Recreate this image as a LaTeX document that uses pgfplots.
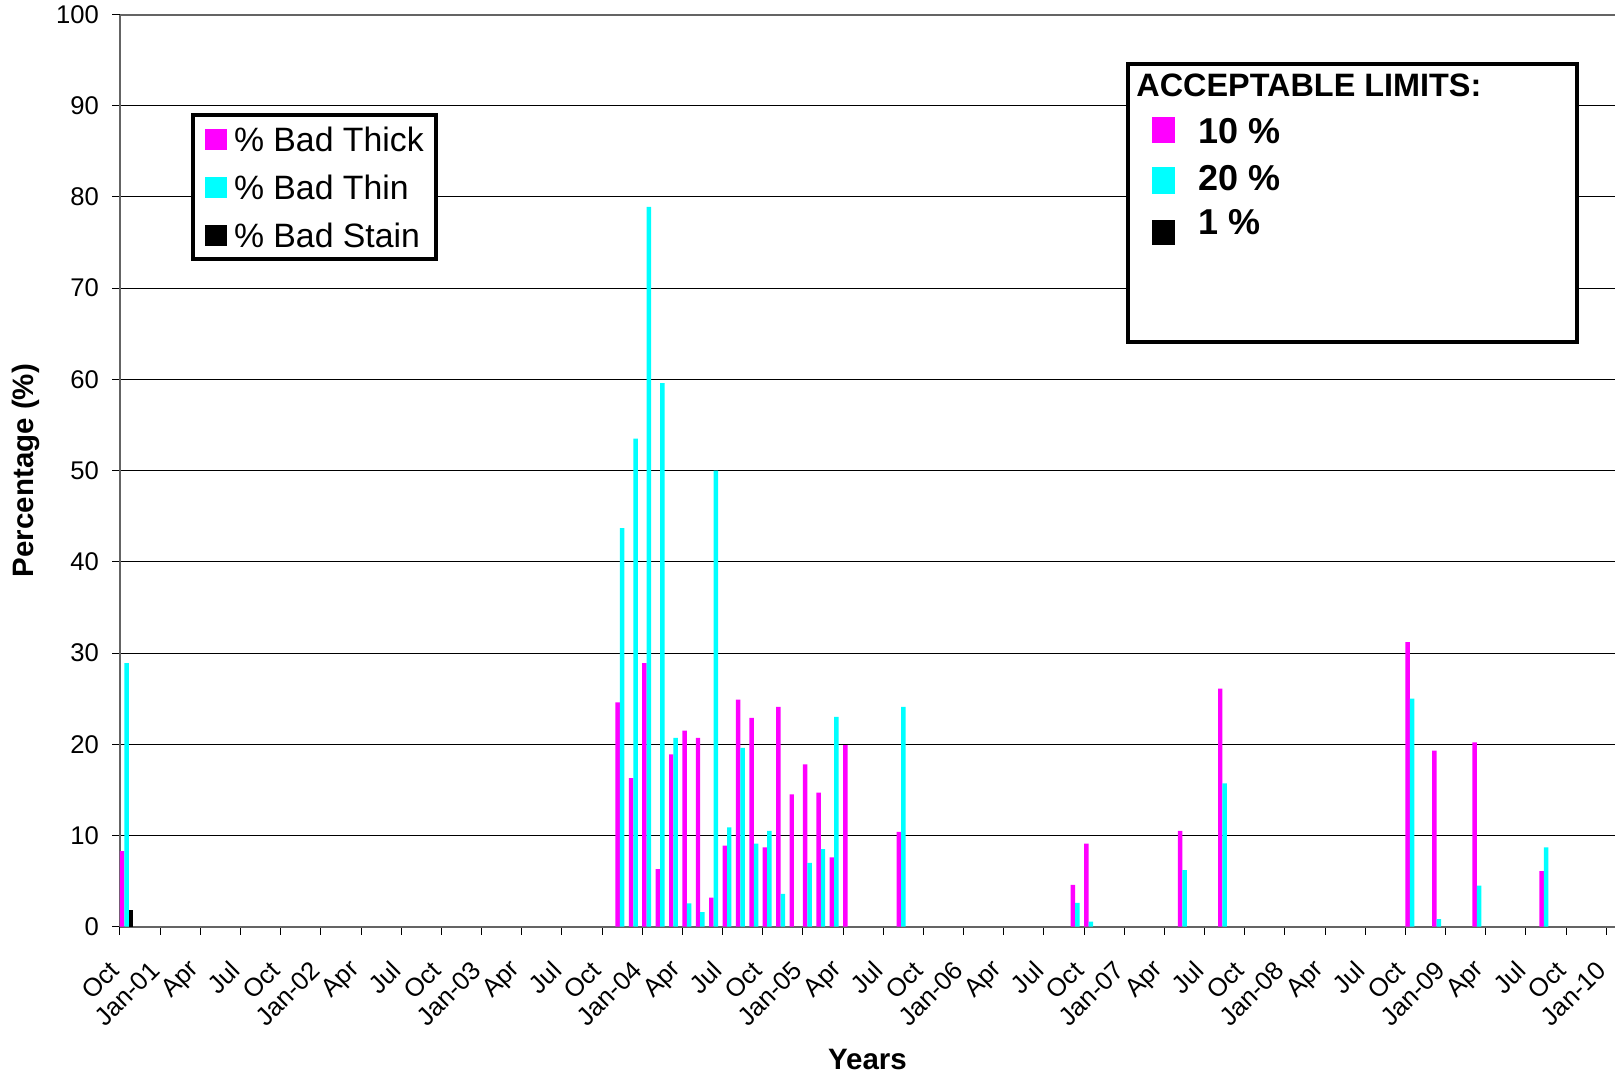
\documentclass[border=0pt]{standalone}
\usepackage{pgfplots}
\pgfplotsset{compat=1.18}
\usepackage{pgfplotstable}
\usepackage{fontspec}
\setmainfont{Liberation Sans}
\definecolor{cMag}{RGB}{255,0,255}
\definecolor{cCyan}{RGB}{0,255,255}
\definecolor{cAxis}{RGB}{100,100,100}
\newcommand{\tickfont}{\fontsize{12.8}{15}\selectfont}
\newcommand{\labfont}{\fontsize{14.75}{17}\selectfont\bfseries}
\pgfplotsset{sqlegend/.style={legend image code/.code={\fill[##1, draw=none] (0pt,-5.25pt) rectangle (11pt,5.25pt);}}}

% month index: 0 = Oct-00
\pgfplotstableread{
m v
0 8.3
37 24.6
38 16.3
39 28.9
40 6.3
41 18.9
42 21.5
43 20.7
44 3.2
45 8.9
46 24.9
47 22.9
48 8.7
49 24.1
50 14.5
51 17.8
52 14.7
53 7.6
54 19.9
58 10.4
71 4.6
72 9.1
79 10.5
82 26.1
96 31.2
98 19.3
101 20.2
106 6.1
}\tblThick

\pgfplotstableread{
m v
0 28.9
37 43.7
38 53.5
39 78.9
40 59.6
41 20.7
42 2.55
43 1.6
44 50.0
45 10.9
46 19.6
47 9.1
48 10.5
49 3.6
51 7.0
52 8.5
53 23.0
58 24.1
71 2.6
72 0.55
79 6.2
82 15.7
96 25.0
98 0.84
101 4.5
106 8.7
}\tblThin

\pgfplotstableread{
m v
0 1.8
}\tblStain

\begin{document}
\begin{tikzpicture}
\begin{axis}[
  scale only axis, width=747.5pt, height=456.1pt,
  xmin=0, xmax=111.65, ymin=0, ymax=100,
  axis x line*=bottom, axis y line*=left,
  axis line style={draw=cAxis, line width=1pt},
  ytick={0,10,...,100},
  ymajorgrids, grid style={black, line width=0.5pt},
  xtick={0,3,...,111},
  xticklabels={Oct,Jan-01,Apr,Jul,Oct,Jan-02,Apr,Jul,Oct,Jan-03,Apr,Jul,Oct,Jan-04,Apr,Jul,Oct,Jan-05,Apr,Jul,Oct,Jan-06,Apr,Jul,Oct,Jan-07,Apr,Jul,Oct,Jan-08,Apr,Jul,Oct,Jan-09,Apr,Jul,Oct,Jan-10},
  tick align=outside, major tick length=4pt,
  tick style={black, line width=0.5pt},
  /pgf/number format/assume math mode=true,
  yticklabel style={font=\tickfont, inner sep=0pt, anchor=east, xshift=-6.4pt},
  xticklabel style={font=\tickfont, inner sep=0pt, xshift=-2.5pt, yshift=-15.4pt, rotate=45, anchor=east},
  xlabel={Years}, ylabel={Percentage (\%)},
  every axis x label/.style={at={(axis description cs:0.5,-0.156)}, anchor=base, inner sep=0pt, font=\labfont},
  every axis y label/.style={at={(axis description cs:-0.0722,0.5)}, rotate=90, anchor=north, inner sep=0pt, font=\labfont},
  legend style={at={(axis description cs:0.0475,0.892)}, anchor=north west, draw=black, line width=2pt, fill=white,
    inner xsep=6pt, inner ysep=6pt, row sep=12pt, column sep=3.5pt,
    font=\fontsize{16.9}{19}\selectfont,
    nodes={inner sep=0pt, text height=12pt, text depth=0pt}},
  legend cell align=left,
]
\addplot[ybar, bar width=0.3333, bar shift=0pt, fill=cMag, draw=none, sqlegend] table[x expr=\thisrow{m}+0.1667, y=v] {\tblThick};
\addlegendentry{\% Bad Thick}
\addplot[ybar, bar width=0.3333, bar shift=0pt, fill=cCyan, draw=none, sqlegend] table[x expr=\thisrow{m}+0.5, y=v] {\tblThin};
\addlegendentry{\% Bad Thin}
\addplot[ybar, bar width=0.3333, bar shift=0pt, fill=black, draw=none, sqlegend] table[x expr=\thisrow{m}+0.8333, y=v] {\tblStain};
\addlegendentry{\% Bad Stain}

\coordinate (SW) at (rel axis cs:0,0);
\draw[cAxis, line width=1pt] (rel axis cs:0,1) -- (rel axis cs:1,1);
\draw[line width=2pt, fill=white] (axis description cs:0.6742,0.6410) rectangle (axis description cs:0.9746,0.9461);
\node[anchor=base west, inner sep=0pt, font=\fontsize{16.2}{19}\selectfont\bfseries] at (axis description cs:0.6796,0.9099) {ACCEPTABLE LIMITS:};
\node[anchor=base west, inner sep=0pt, font=\fontsize{18}{21}\selectfont\bfseries] at (axis description cs:0.6903,0.8588) {\textcolor{cMag}{\rule{11.5pt}{13.3pt}}\hspace{11.5pt}10 \%};
\node[anchor=base west, inner sep=0pt, font=\fontsize{18}{21}\selectfont\bfseries] at (axis description cs:0.6903,0.8076) {\textcolor{cCyan}{\rule[-1.85pt]{11.5pt}{13.3pt}}\hspace{11.5pt}20 \%};
\node[anchor=base west, inner sep=0pt, font=\fontsize{18}{21}\selectfont\bfseries] at (axis description cs:0.6903,0.7583) {\textcolor{black}{\rule[-5pt]{11.5pt}{12.5pt}}\hspace{11.5pt}1 \%};
\end{axis}
\pgfresetboundingbox
\path[use as bounding box] ([xshift=-60pt,yshift=-75.65pt]SW) rectangle ++(807.5pt,539pt);
\end{tikzpicture}
\end{document}
